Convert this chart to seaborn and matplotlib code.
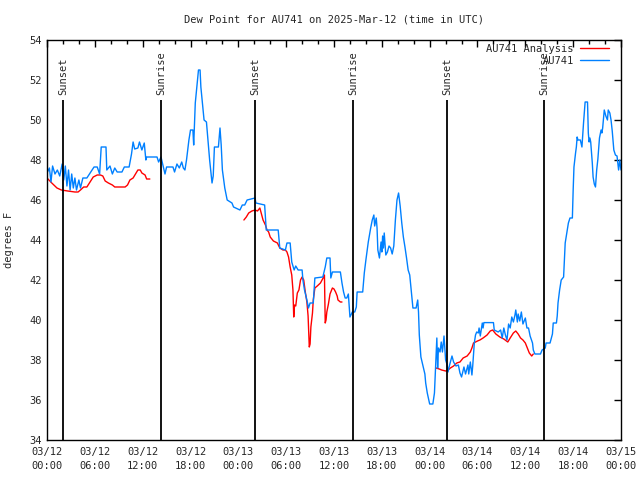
import matplotlib
matplotlib.use("Agg")
import matplotlib.pyplot as plt
import pandas as pd
import seaborn as sns

# hours since 2025-03-12 00:00 UTC
obs_hours = [0.0, 0.3, 0.5, 0.7, 1.0, 1.3, 1.6, 1.9, 2.1, 2.3, 2.5, 2.7, 2.9, 3.1, 3.3, 3.5, 3.7, 4.0,
             4.2, 4.5, 5.0, 5.5, 5.9, 6.3, 6.6, 6.8, 7.4, 7.5, 7.9, 8.2, 8.5, 8.8, 9.4, 9.7, 10.3, 10.6,
             10.8, 11.0, 11.4, 11.6, 11.9, 12.2, 12.4, 12.5, 13.8, 14.0, 14.3, 14.6, 14.8, 15.0, 15.8,
             16.0, 16.3, 16.6, 16.9, 17.1, 17.3, 17.5, 17.8, 18.0, 18.3, 18.4, 18.6, 18.8, 19.0, 19.2,
             19.3, 19.5, 19.7, 20.0, 20.4, 20.7, 20.85, 21.0, 21.5, 21.7, 21.85, 22.0, 22.3, 22.6, 23.2,
             23.4, 24.2, 24.5, 24.8, 25.1, 26.1, 26.2, 27.3, 27.5, 29.0, 29.2, 29.9, 30.1, 30.5, 30.7,
             31.0, 31.2, 31.5, 32.0, 32.1, 32.3, 32.6, 32.8, 33.0, 33.4, 33.6, 34.6, 34.9, 35.1, 35.5,
             35.6, 35.8, 36.8, 37.0, 37.2, 37.4, 37.6, 37.8, 38.0, 38.3, 38.6, 38.8, 38.9, 39.6, 39.8,
             40.0, 40.3, 40.6, 40.8, 41.0, 41.1, 41.3, 41.4, 41.5, 41.7, 41.9, 42.0, 42.1, 42.2, 42.3,
             42.5, 42.7, 42.9, 43.1, 43.3, 43.5, 43.7, 43.9, 44.1, 44.3, 44.5, 44.7, 44.9, 45.1, 45.3,
             45.5, 45.8, 45.9, 46.3, 46.5, 46.6, 46.7, 46.9, 47.2, 47.4, 47.5, 47.7, 47.9, 48.0, 48.4,
             48.6, 48.7, 48.8, 48.9, 49.0, 49.1, 49.3, 49.45, 49.6, 49.8, 50.0, 50.2, 50.3, 50.5, 50.8,
             51.0, 51.3, 51.6, 51.8, 52.0, 52.3, 52.5, 52.8, 52.9, 53.1, 53.3, 53.4, 53.6, 53.75, 53.9,
             54.1, 54.2, 54.35, 54.6, 54.7, 54.8, 56.0, 56.1, 56.6, 56.9, 57.1, 57.3, 57.5, 57.7, 57.9,
             58.1, 58.3, 58.5, 58.7, 58.8, 59.0, 59.1, 59.3, 59.5, 59.7, 60.0, 60.2, 60.4, 60.6, 60.9,
             61.0, 61.2, 61.9, 62.1, 62.5, 62.6, 63.1, 63.4, 63.5, 63.9, 64.0, 64.1, 64.3, 64.5, 64.8,
             64.9, 65.0, 65.2, 65.4, 65.6, 65.9, 66.0, 66.1, 66.3, 66.4, 66.5, 66.6, 66.9, 67.1, 67.3,
             67.5, 67.8, 67.9, 68.0, 68.1, 68.2, 68.4, 68.5, 68.65, 68.8, 68.95, 69.1, 69.3, 69.5, 69.6,
             69.7, 69.9, 70.0, 70.1, 70.3, 70.4, 70.6, 70.75, 70.9, 71.1, 71.3, 71.5, 71.7, 71.85, 72.0]
obs_dewpt = [47.35, 47.6, 46.9, 47.7, 47.3, 47.5, 47.2, 47.8, 47.0, 47.7, 46.7, 47.5, 46.5, 47.3, 46.6,
             47.1, 46.5, 47.0, 46.6, 47.1, 47.1, 47.4, 47.65, 47.65, 47.3, 48.65, 48.65, 47.5, 47.7, 47.3,
             47.6, 47.4, 47.4, 47.65, 47.65, 48.3, 48.9, 48.55, 48.6, 48.9, 48.5, 48.85, 48.0, 48.15,
             48.15, 47.9, 48.15, 47.65, 47.3, 47.65, 47.65, 47.4, 47.8, 47.6, 47.9, 47.6, 47.5, 48.0,
             49.0, 49.5, 49.5, 48.75, 50.85, 51.65, 52.5, 52.5, 51.65, 50.85, 50.0, 49.9, 48.0, 46.85,
             47.2, 48.65, 48.65, 49.6, 48.75, 47.5, 46.6, 46.0, 45.85, 45.65, 45.5, 45.75, 45.75, 46.0,
             46.1, 45.85, 45.75, 44.5, 44.5, 43.6, 43.5, 43.85, 43.85, 42.9, 42.5, 42.7, 42.5, 42.5,
             42.0, 41.5, 41.0, 40.6, 40.85, 40.85, 42.1, 42.15, 42.65, 43.1, 43.1, 42.1, 42.4, 42.4,
             41.85, 41.4, 41.1, 41.1, 41.3, 40.15, 40.4, 40.4, 40.65, 41.4, 41.4, 42.35, 43.0, 43.9,
             44.6, 45.0, 45.25, 44.7, 45.1, 44.6, 43.5, 43.1, 43.9, 43.4, 44.2, 43.6, 44.35, 43.25,
             43.4, 43.7, 43.6, 43.3, 43.7, 45.0, 46.0, 46.35, 45.7, 44.85, 44.15, 43.65, 43.1, 42.5,
             42.25, 41.0, 40.6, 40.6, 41.0, 40.4, 39.25, 38.15, 37.65, 37.3, 36.85, 36.35, 36.0, 35.8,
             35.8, 36.35, 37.3, 38.35, 39.1, 37.6, 38.6, 38.4, 38.9, 38.4, 39.2, 38.0, 37.75, 37.4,
             37.75, 38.2, 37.9, 37.7, 37.75, 37.35, 37.15, 37.65, 37.3, 37.75, 37.3, 37.9, 37.25, 37.7,
             38.85, 39.25, 39.4, 39.35, 39.6, 39.2, 39.85, 39.6, 39.87, 39.87, 39.5, 39.4, 39.5, 39.1,
             39.6, 39.25, 39.0, 39.8, 39.6, 40.15, 39.9, 40.25, 40.5, 39.9, 40.3, 39.95, 40.4, 39.8,
             40.1, 39.6, 39.6, 39.2, 38.85, 38.5, 38.3, 38.3, 38.5, 38.6, 38.85, 38.85, 39.3, 39.85,
             39.85, 40.2, 40.85, 41.5, 42.0, 42.15, 43.0, 43.85, 44.35, 44.85, 45.1, 45.1, 46.5, 47.65,
             48.35, 48.65, 49.15, 49.0, 49.0, 48.65, 49.85, 50.9, 50.9, 49.35, 48.9, 49.1, 48.9, 47.85,
             47.15, 46.8, 46.65, 47.5, 48.05, 49.1, 49.5, 49.35, 49.6, 50.5, 50.35, 50.2, 50.0, 50.5,
             50.35, 50.0, 49.45, 48.5, 48.25, 48.2, 47.5, 48.0, 47.5]

# analysis, three separate runs
ana_hours_1 = [0.0, 0.6, 1.25, 1.8, 2.6, 3.5, 3.9, 4.2, 4.6, 5.0, 5.4, 5.8, 6.3, 6.7, 7.0, 7.3, 7.7,
               8.2, 8.5, 9.8, 10.1, 10.4, 10.8, 11.1, 11.4, 11.7, 11.9, 12.3, 12.5, 12.9]
ana_dewpt_1 = [47.1, 46.85, 46.6, 46.5, 46.45, 46.4, 46.4, 46.5, 46.65, 46.65, 46.9, 47.15, 47.25,
               47.25, 47.2, 46.95, 46.85, 46.75, 46.65, 46.65, 46.75, 47.0, 47.1, 47.3, 47.5, 47.5,
               47.35, 47.25, 47.05, 47.05]
ana_hours_2 = [24.7, 25.0, 25.3, 25.7, 26.1, 26.4, 26.7, 26.9, 27.1, 27.4, 27.6, 27.8, 28.0, 28.4,
               28.9, 29.2, 29.6, 29.9, 30.1, 30.3, 30.5, 30.7, 30.85, 30.95, 31.05, 31.2, 31.4, 31.6,
               31.8, 32.0, 32.2, 32.4, 32.6, 32.75, 32.9, 33.0, 33.1, 33.3, 33.4, 33.6, 33.9, 34.3,
               34.5, 34.7, 34.8, 34.9, 35.0, 35.1, 35.3, 35.5, 35.8, 36.0, 36.2, 36.4, 36.5, 36.8, 37.0]
ana_dewpt_2 = [45.0, 45.15, 45.35, 45.45, 45.5, 45.45, 45.6, 45.3, 45.0, 44.75, 44.5, 44.4, 44.15,
               43.95, 43.85, 43.6, 43.5, 43.5, 43.4, 43.15, 42.65, 42.25, 41.5, 40.15, 40.75, 40.7,
               41.35, 41.5, 42.0, 42.15, 42.0, 41.4, 40.9, 40.2, 38.65, 38.8, 39.65, 40.35, 41.0,
               41.6, 41.7, 41.85, 42.0, 42.15, 42.25, 39.85, 40.0, 40.4, 40.8, 41.3, 41.6, 41.55,
               41.4, 41.2, 41.0, 40.9, 40.9]
ana_hours_3 = [48.8, 49.2, 49.5, 50.0, 50.3, 50.6, 51.0, 51.4, 51.8, 52.2, 52.7, 53.1, 53.3, 53.5,
               54.0, 54.3, 54.7, 55.2, 55.4, 55.6, 55.9, 56.3, 56.8, 57.3, 57.8, 58.1, 58.5, 58.8,
               59.1, 59.4, 59.7, 60.0, 60.2, 60.5, 60.8, 61.0]
ana_dewpt_3 = [37.6, 37.55, 37.5, 37.45, 37.5, 37.6, 37.7, 37.85, 37.9, 38.1, 38.2, 38.4, 38.6, 38.85,
               38.95, 39.0, 39.1, 39.25, 39.35, 39.45, 39.5, 39.3, 39.15, 39.05, 38.9, 39.1, 39.35,
               39.45, 39.3, 39.1, 39.0, 38.85, 38.65, 38.35, 38.2, 38.3]

sun_hours = [2.0, 14.3, 26.1, 38.4, 50.2, 62.4]
sun_labels = ['Sunset', 'Sunrise', 'Sunset', 'Sunrise', 'Sunset', 'Sunrise']

tick_hours = [0, 6, 12, 18, 24, 30, 36, 42, 48, 54, 60, 66, 72]
tick_labels = ['03/12\n00:00', '03/12\n06:00', '03/12\n12:00', '03/12\n18:00', '03/13\n00:00',
               '03/13\n06:00', '03/13\n12:00', '03/13\n18:00', '03/14\n00:00', '03/14\n06:00',
               '03/14\n12:00', '03/14\n18:00', '03/15\n00:00']

sns.set_style('white')
plt.rcParams['font.family'] = ['DejaVu Sans Mono']
plt.rcParams['font.size'] = 7.5

fig = plt.figure(figsize=(6.4, 4.8), dpi=100)
ax = fig.add_axes([47 / 640, 40 / 480, 574 / 640, 400 / 480])

obs = pd.DataFrame({'hour': obs_hours, 'dewpt': obs_dewpt})
ana_runs = [(ana_hours_1, ana_dewpt_1), (ana_hours_2, ana_dewpt_2), (ana_hours_3, ana_dewpt_3)]

# analysis zuerst, damit die Messung darueber liegt
for i, (h, d) in enumerate(ana_runs):
    seg = pd.DataFrame({'hour': h, 'dewpt': d})
    sns.lineplot(data=seg, x='hour', y='dewpt', ax=ax, color='#ff0000', linewidth=1,
                 label='AU741 Analysis' if i == 0 else '_nolegend_', legend=False)
sns.lineplot(data=obs, x='hour', y='dewpt', ax=ax, color='#0080ff', linewidth=1,
             label='AU741', legend=False)

# sunrise / sunset markers
for h, lab in zip(sun_hours, sun_labels):
    ax.vlines(h, 34, 51, color='black', linewidth=1.3)
    ax.text(h, 51.25, lab, rotation=90, ha='center', va='bottom', fontsize=7.5)

ax.set_xlim(0, 72)
ax.set_ylim(34, 54)
ax.set_xticks(tick_hours)
ax.set_xticklabels(tick_labels, linespacing=1.55)
ax.set_xticks(range(0, 73, 2), minor=True)
ax.set_yticks(range(34, 55, 2))
ax.tick_params(which='both', direction='in', top=True, right=True, color='black', width=1)
ax.tick_params(which='major', length=5)
ax.tick_params(which='minor', length=3)
ax.tick_params(axis='x', pad=5)
ax.tick_params(axis='y', pad=4)
for s in ax.spines.values():
    s.set_color('black')
    s.set_linewidth(1)

ax.set_xlabel('')
ax.set_ylabel('degrees F')
ax.yaxis.set_label_coords(-33 / 574, 0.5)
fig.text(334 / 640, 1 - 20 / 480, 'Dew Point for AU741 on 2025-Mar-12 (time in UTC)',
         ha='center', va='center', fontsize=7.5)

ax.legend(loc='upper right', bbox_to_anchor=((609 - 47) / 574, (440 - 44) / 400), frameon=False,
          markerfirst=False, handlelength=2.8, handletextpad=0.6, borderpad=0, borderaxespad=0,
          labelspacing=0.2)

fig.savefig('out.png', dpi=100)
